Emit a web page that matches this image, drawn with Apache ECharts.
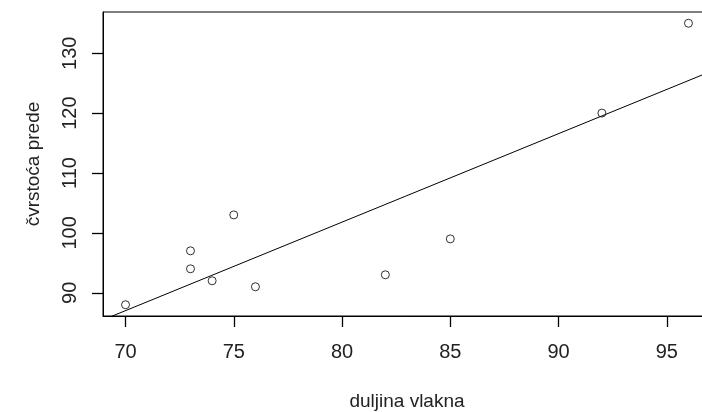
<!DOCTYPE html>
<html>
<head>
<meta charset="utf-8">
<script src="https://cdn.jsdelivr.net/npm/echarts@6/dist/echarts.min.js"></script>
<style>
html,body{margin:0;padding:0;background:#fff;}
#c{width:702px;height:412px;}
</style>
</head>
<body>
<div id="c"></div>
<script>
const duljina = [70, 73, 73, 74, 75, 76, 82, 85, 92, 96];
const cvrstoca = [88, 97, 94, 92, 103, 91, 93, 99, 120, 135];
const fitLineX = [68.96, 97.04];
const fitLineY = [85.48, 126.97];
const xTicks = [70, 75, 80, 85, 90, 95];
const yTicks = [90, 100, 110, 120, 130];
const xRange = [68.96, 97.04];
const yRange = [86.12, 136.88];
const xTitle = 'duljina vlakna';
const yTitle = 'čvrstoća prede';

const points = duljina.map((x, i) => [x, cvrstoca[i]]);
const fit = fitLineX.map((x, i) => [x, fitLineY[i]]);

const chart = echarts.init(document.getElementById('c'), null, {renderer: 'canvas'});
const font = 'Liberation Sans, Arial, sans-serif';
chart.setOption({
  animation: false,
  backgroundColor: '#fff',
  grid: {
    left: 103, top: 12, width: 608, height: 304,
    outerBoundsMode: 'none', containLabel: false,
    show: true, borderColor: '#000', borderWidth: 1, backgroundColor: 'transparent'
  },
  xAxis: {
    type: 'value', min: xRange[0], max: xRange[1],
    name: xTitle, nameLocation: 'middle', nameGap: 76,
    nameTextStyle: {fontFamily: font, fontSize: 19, color: '#222'},
    axisLine: {show: true, lineStyle: {color: '#000', width: 1}},
    splitLine: {show: false},
    axisTick: {show: true, length: 11, lineStyle: {color: '#000', width: 1.3}, customValues: xTicks},
    axisLabel: {customValues: xTicks, fontFamily: font, fontSize: 20, color: '#222', margin: 26}
  },
  yAxis: {
    type: 'value', min: yRange[0], max: yRange[1],
    name: yTitle, nameLocation: 'middle', nameGap: 60,
    nameTextStyle: {fontFamily: font, fontSize: 19, color: '#222'},
    axisLine: {show: true, lineStyle: {color: '#000', width: 1}},
    splitLine: {show: false},
    axisTick: {show: true, length: 11, lineStyle: {color: '#000', width: 1.3}, customValues: yTicks},
    axisLabel: {customValues: yTicks, rotate: 90, fontFamily: font, fontSize: 20, color: '#222', margin: 23}
  },
  series: [
    {
      type: 'scatter', data: points, symbol: 'circle', symbolSize: 8,
      itemStyle: {color: 'transparent', borderColor: '#000', borderWidth: 1}
    },
    {
      type: 'line', data: fit, symbol: 'none', clip: true,
      lineStyle: {color: '#000', width: 1}
    }
  ]
});
</script>
</body>
</html>
